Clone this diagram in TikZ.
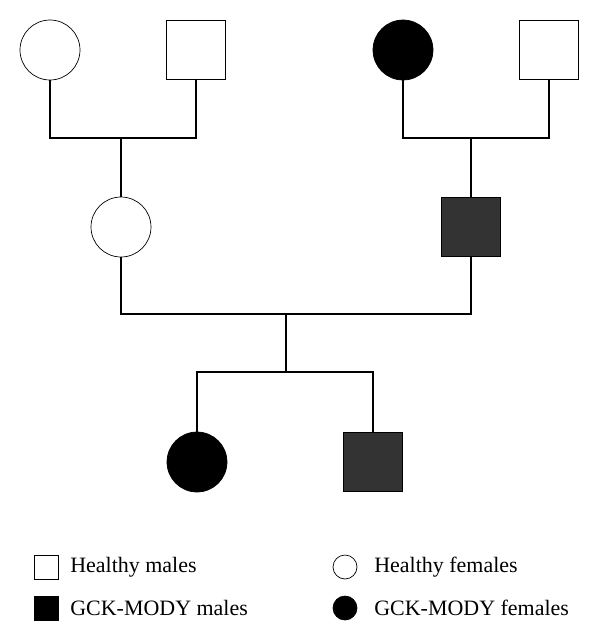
\documentclass[tikz,border=0pt]{standalone}
\usepackage{fontspec}
\setmainfont{Liberation Serif}
\tikzset{
  male/.style={draw, thin, rectangle, minimum size=1.18cm, inner sep=0pt},
  female/.style={draw, thin, circle, minimum size=1.2cm, inner sep=0pt},
  affm/.style={male, fill=black!80},
  afff/.style={female, fill=black},
  lmale/.style={draw, thin, rectangle, minimum size=0.48cm, inner sep=0pt},
  lfemale/.style={draw, thin, circle, minimum size=0.48cm, inner sep=0pt},
  label/.style={anchor=west, font=\fontsize{12.5}{14}\selectfont}
}
\begin{document}
\begin{tikzpicture}[x=0.02cm, y=-0.02cm, line width=0.6pt]
\useasboundingbox (0,0) rectangle (600,643);

% first generation
\node[female] (gma1) at (50,50) {};
\node[male]   (gpa1) at (196,50) {};
\node[afff]   (gma2) at (403,50) {};
\node[male]   (gpa2) at (549,50) {};

% second generation
\node[female] (mother) at (121,227) {};
\node[affm]   (father) at (471,227) {};

% third generation
\node[afff] (daughter) at (197,462) {};
\node[affm] (son)      at (373,462) {};

\coordinate (c1) at (121,138);
\coordinate (c2) at (471,138);
\coordinate (c3) at (286,314);
\coordinate (c4) at (286,372);

\draw (gma1.south) |- (c1) -| (gpa1.south);
\draw (c1) -- (mother.north);
\draw (gma2.south) |- (c2) -| (gpa2.south);
\draw (c2) -- (father.north);
\draw (mother.south) |- (c3) -| (father.south);
\draw (c3) -- (c4);
\draw (daughter.north) |- (c4) -| (son.north);

% legend
\node[lmale] (lhm) at (46,567) {};
\node[label] (thm) at (64,567) {Healthy males};
\node[lmale, fill=black] (lam) at (46,608) {};
\node[label] (tam) at (64,608) {GCK-MODY males};
\node[lfemale] (lhf) at (345,567) {};
\node[label] (thf) at (368,567) {Healthy females};
\node[lfemale, fill=black] (laf) at (345,608) {};
\node[label] (taf) at (368,608) {GCK-MODY females};
\end{tikzpicture}
\end{document}
